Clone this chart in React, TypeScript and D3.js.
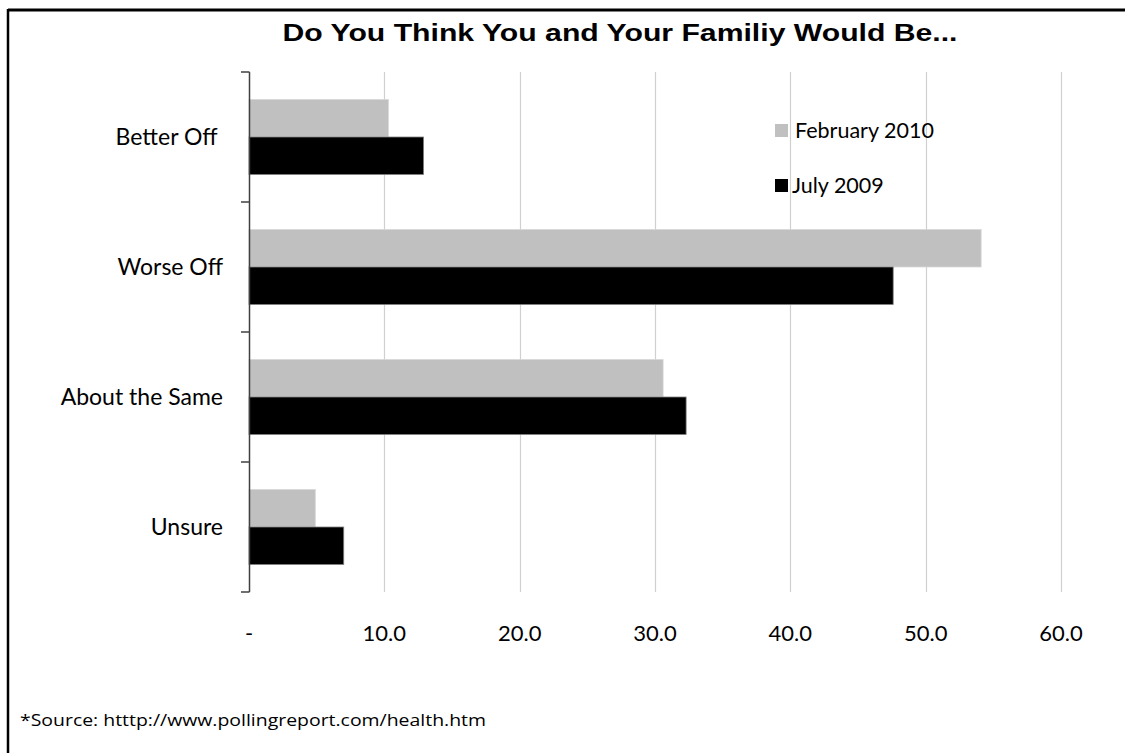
import React from "react";
import * as d3 from "d3";

const categories = ["Better Off", "Worse Off", "About the Same", "Unsure"];
const seriesNames = ["February 2010", "July 2009"];
const feb2010 = [10.3, 54.1, 30.6, 4.9];
const july2009 = [12.9, 47.6, 32.3, 7.0];
const xTicks = [0, 10, 20, 30, 40, 50, 60];
const colors = ["#c0c0c0", "#000000"];
const title = "Do You Think You and Your Familiy Would Be...";
const source = "*Source: htttp://www.pollingreport.com/health.htm";

export default function App() {
  const W = 1125, H = 753;
  const x = d3.scaleLinear().domain([0, 60]).range([249, 1061]);
  const y = d3.scaleBand<string>().domain(categories).range([72, 592]).paddingInner(0.423).paddingOuter(0.2115);
  const ySub = d3.scaleBand<string>().domain(seriesNames).range([0, y.bandwidth()]);
  const series = [feb2010, july2009];
  const bounds = d3.range(categories.length + 1).map((i) => 72 + i * y.step());
  const fmt = (v: number) => (v === 0 ? "-" : d3.format(".1f")(v));
  const labelFont = "'Lato', 'Open Sans', sans-serif";

  return (
    <svg width={W} height={H} style={{ position: "absolute", left: 0, top: 0, background: "#fff" }}>
      <rect x={0} y={0} width={W} height={H} fill="#fff" />
      {/* frame */}
      <line x1={8} x2={W} y1={10} y2={10} stroke="#000" strokeWidth={3} />
      <line x1={8} x2={8} y1={9} y2={H} stroke="#000" strokeWidth={2.5} />
      <text x={620} y={41} textAnchor="middle" fontFamily="'Liberation Sans Narrow', 'Liberation Sans', sans-serif"
        fontWeight="bold" fontSize={24} textLength={675} lengthAdjust="spacingAndGlyphs">{title}</text>
      {/* gridlines */}
      {xTicks.slice(1).map((t) => (
        <line key={t} x1={Math.round(x(t)) + 0.5} x2={Math.round(x(t)) + 0.5} y1={72} y2={592} stroke="#d0d0d0" strokeWidth={1.2} />
      ))}
      {/* bars */}
      {categories.map((c, i) => (
        <g key={c} transform={`translate(0,${y(c)})`}>
          {series.map((s, j) => (
            <rect key={j} x={x(0)} y={ySub(seriesNames[j])} width={x(s[i]) - x(0)} height={ySub.bandwidth()}
              fill={colors[j]} stroke={j === 1 ? "#808080" : "#d8d8d8"} strokeWidth={0.8} />
          ))}
        </g>
      ))}
      {/* axis */}
      <line x1={249.5} x2={249.5} y1={72} y2={592} stroke="#404040" strokeWidth={1.5} />
      {bounds.map((b, i) => (
        <line key={i} x1={241} x2={249.5} y1={b} y2={b} stroke="#404040" strokeWidth={1.5} />
      ))}
      {categories.map((c) => (
        <text key={c} x={223} y={(y(c) as number) + y.bandwidth() / 2 + 8} textAnchor="end"
          fontFamily={labelFont} fontSize={23} fill="#000" style={{ whiteSpace: "pre" }}>{c === "Better Off" ? c + " " : c}</text>
      ))}
      {xTicks.map((t) => (
        <text key={t} x={x(t)} y={641} textAnchor="middle" fontFamily={labelFont} fontSize={22} fill="#000">{fmt(t)}</text>
      ))}
      {/* legend */}
      {seriesNames.map((n, j) => (
        <g key={n} transform={`translate(775,${124 + j * 55})`}>
          <rect x={0} y={0} width={13} height={13} fill={colors[j]} />
          <text x={j === 0 ? 20 : 17} y={14} fontFamily={labelFont} fontSize={21.5} fill="#000">{n}</text>
        </g>
      ))}
      <text x={20} y={726} fontFamily="'Open Sans', 'Noto Sans', sans-serif" fontSize={17} fill="#000"
        textLength={466} lengthAdjust="spacingAndGlyphs">{source}</text>
    </svg>
  );
}
